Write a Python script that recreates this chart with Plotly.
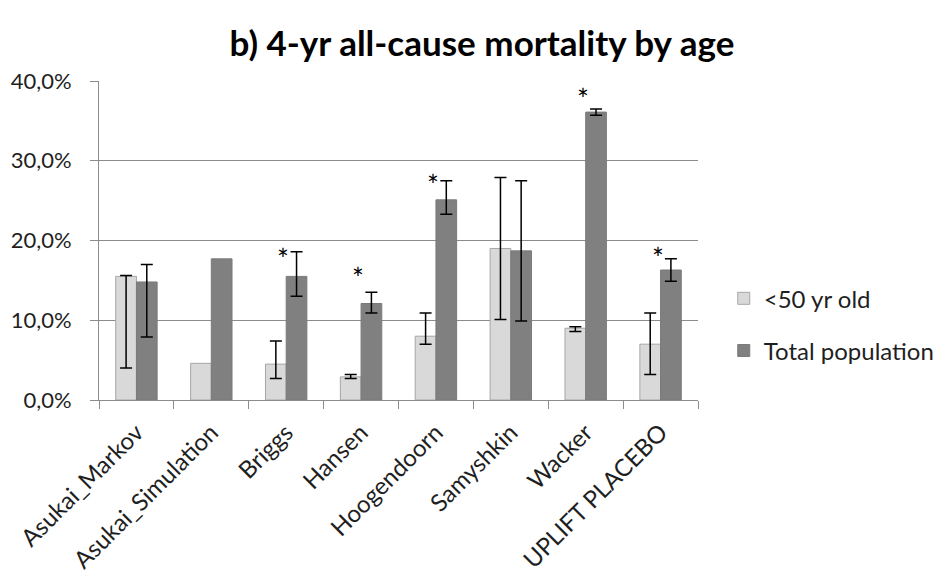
import numpy as np
import plotly.graph_objects as go

categories = ["Asukai_Markov", "Asukai_Simulation", "Briggs", "Hansen",
              "Hoogendoorn", "Samyshkin", "Wacker", "UPLIFT PLACEBO"]
under50 = [15.5, 4.6, 4.5, 2.9, 8.0, 19.0, 9.0, 7.0]
under50_hi = [15.6, None, 7.4, 3.2, 10.9, 27.9, 9.2, 10.9]
under50_lo = [4.0, None, 2.7, 2.7, 7.0, 10.1, 8.6, 3.2]
total = [14.8, 17.7, 15.5, 12.1, 25.1, 18.7, 36.1, 16.3]
total_hi = [17.0, None, 18.6, 13.5, 27.5, 27.5, 36.5, 17.7]
total_lo = [7.9, None, 13.0, 10.9, 23.3, 9.9, 35.7, 14.9]
star_cats = ["Briggs", "Hansen", "Hoogendoorn", "Wacker", "UPLIFT PLACEBO"]
star_y = [18.5, 16.2, 27.9, 38.6, 18.7]
tick_vals = [0, 10, 20, 30, 40]
tick_text = ["0,0%", "10,0%", "20,0%", "30,0%", "40,0%"]


def plus(v, hi):
    return np.array([np.nan if h is None else h - x for x, h in zip(v, hi)], dtype=float)


def minus(v, lo):
    return np.array([np.nan if l is None else x - l for x, l in zip(v, lo)], dtype=float)


FONT = "Lato"
TXT = "#1f1f1f"
err_style = dict(color="black", thickness=1.5, width=6)

fig = go.Figure()
fig.add_trace(go.Bar(
    x=categories, y=under50, name="<50 yr old", legendgroup="a",
    marker=dict(color="#d9d9d9", line=dict(color="#a6a6a6", width=1)),
    error_y=dict(type="data", symmetric=False, array=plus(under50, under50_hi),
                 arrayminus=minus(under50, under50_lo), **err_style),
))
fig.add_trace(go.Bar(
    x=categories, y=total, name="Total population", legendgroup="b",
    marker=dict(color="#808080", line=dict(color="#7a7a7a", width=1)),
    error_y=dict(type="data", symmetric=False, array=plus(total, total_hi),
                 arrayminus=minus(total, total_lo), **err_style),
))

for c, y in zip(star_cats, star_y):
    fig.add_annotation(x=c, y=y, text="*", showarrow=False, xshift=-3, yshift=-7,
                       font=dict(family=FONT, size=28, color="black"))

fig.update_layout(
    width=945, height=580,
    margin=dict(l=99, r=247, t=81, b=180, autoexpand=False),
    paper_bgcolor="white", plot_bgcolor="white",
    barmode="group", bargap=0.447, bargroupgap=0,
    title=dict(text="<b>b) 4-yr all-cause mortality by age</b>", x=0.51, xanchor="center",
               y=0.925, yanchor="middle",
               font=dict(family=FONT, size=35, color="black")),
    font=dict(family=FONT, size=22, color=TXT),
    legend=dict(x=1.043, y=0.236, xanchor="left", yanchor="middle",
                tracegroupgap=18, font=dict(family=FONT, size=24, color=TXT)),
    showlegend=True,
)
fig.update_xaxes(
    automargin=False,
    showline=True, linecolor="#8c8c8c", linewidth=1,
    ticks="outside", tickson="boundaries", ticklen=8, tickcolor="#8c8c8c",
    tickangle=-45, ticklabelstandoff=8,
    tickfont=dict(family=FONT, size=24, color=TXT),
    showgrid=False,
)
fig.update_yaxes(
    automargin=False,
    range=[0, 40], tickvals=tick_vals, ticktext=tick_text,
    showline=True, linecolor="#8c8c8c", linewidth=1,
    ticks="outside", ticklen=8, tickcolor="#8c8c8c", ticklabelstandoff=14,
    showgrid=True, gridcolor="#8c8c8c", gridwidth=1,
    tickfont=dict(family=FONT, size=22, color=TXT), zeroline=False,
)

fig.write_html("out.html")
